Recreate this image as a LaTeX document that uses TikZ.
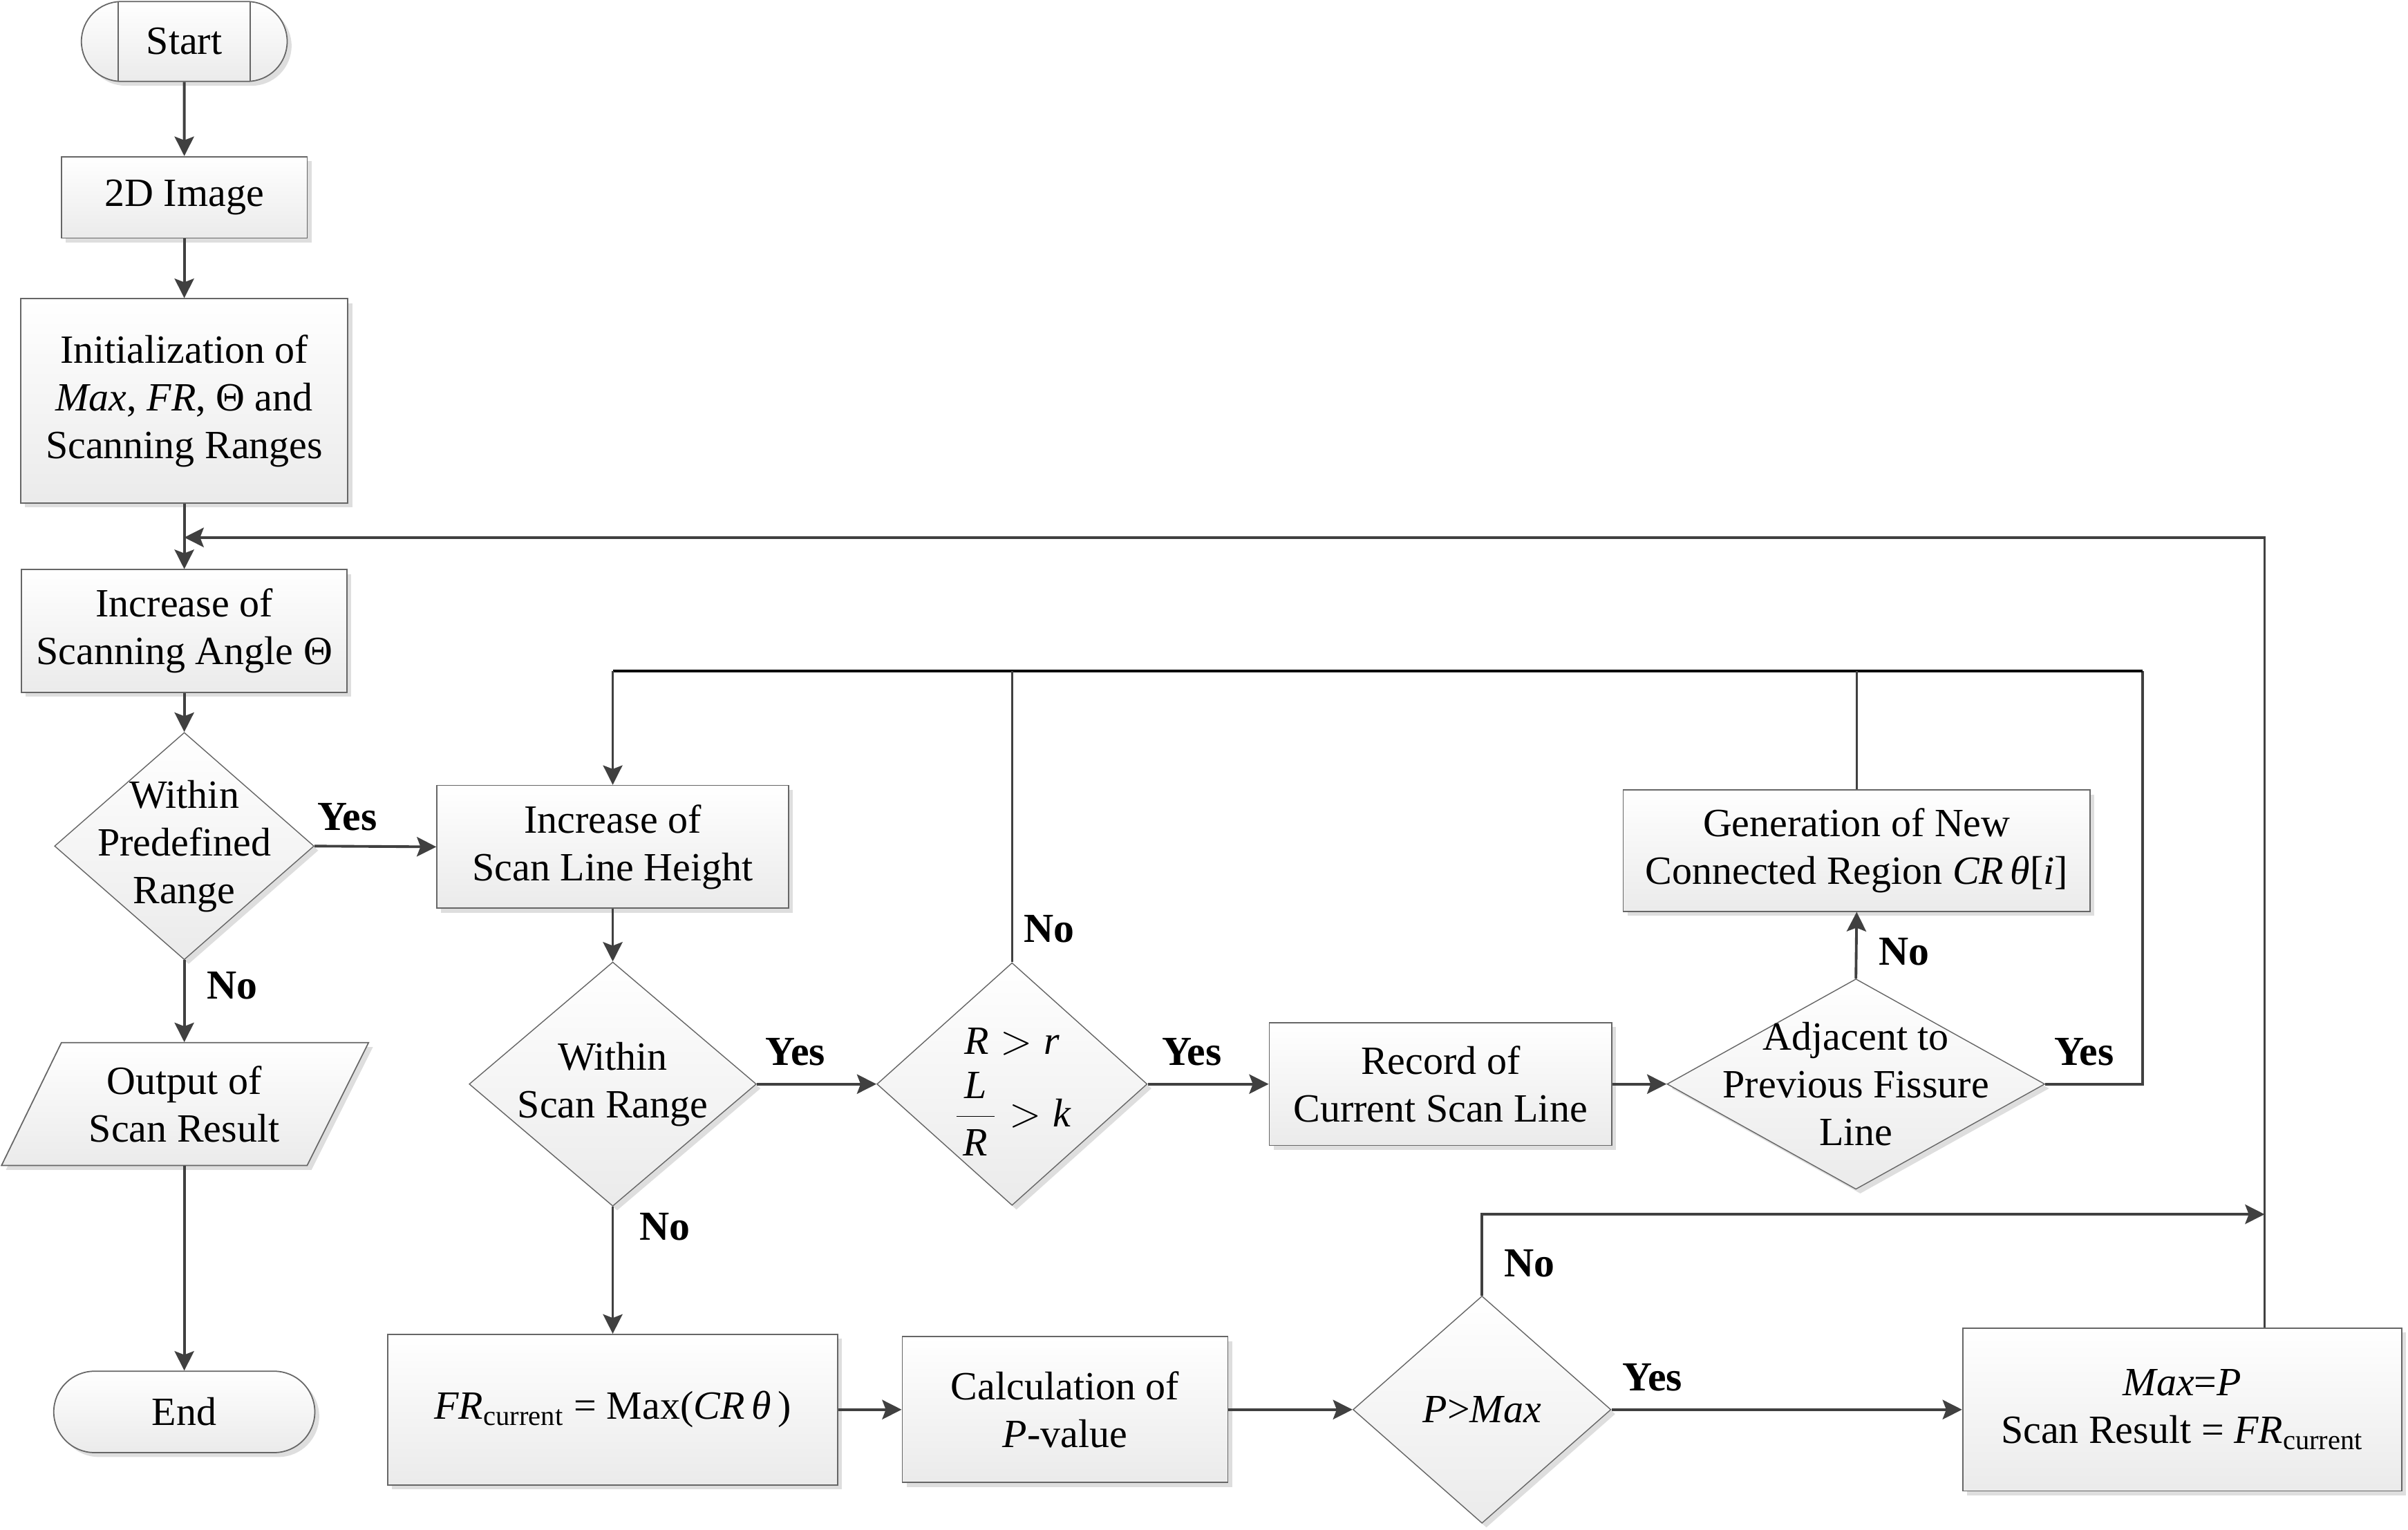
\documentclass[tikz,border=0pt]{standalone}
\usepackage{fontspec}
\setmainfont{Liberation Serif}
\usetikzlibrary{shapes.geometric,shapes.misc,arrows.meta,shadows,calc}
\newcommand{\pxu}{0.02222cm}
\tikzset{
  fillsh/.style={top color=white, bottom color=black!8,
    drop shadow={shadow xshift=1.8pt, shadow yshift=-1.8pt, fill=black!13, opacity=1}},
  box/.style={rectangle, draw=black!60, line width=0.5pt, fillsh, align=center, inner sep=0pt},
  dia/.style={diamond, draw=black!60, line width=0.4pt, fillsh, inner sep=0pt},
  term/.style={rounded rectangle, draw=black!60, line width=0.5pt, fillsh, inner sep=0pt},
  sz/.style 2 args={minimum width=#1*\pxu, minimum height=#2*\pxu},
  txt/.style={align=center, inner sep=0pt},
  lab/.style={font=\fontsize{17}{19.6}\selectfont\bfseries, inner sep=0pt},
  arr/.style={draw=black!75, line width=1.1pt, -{Stealth[length=8pt,width=8pt,inset=1.5pt]}},
  ln/.style={draw=black!75, line width=1.1pt},
  darkln/.style={draw=black, line width=1.2pt},
  thinln/.style={draw=black!75, line width=0.8pt},
  thinarr/.style={draw=black!75, line width=0.8pt, -{Stealth[length=8pt,width=8pt,inset=1.5pt]}},
}
\begin{document}
\begin{tikzpicture}[x=0.02222cm, y=-0.02222cm, font=\fontsize{16.5}{19.6}\selectfont]
\useasboundingbox (0,0) rectangle (1568,996);

% left column
\node[term, sz={134}{52}] (start) at (120,27) {Start};
\draw[draw=black!60, line width=0.5pt] ($(start.center)+(-43,-26)$) -- ($(start.center)+(-43,26)$);
\draw[draw=black!60, line width=0.5pt] ($(start.center)+(43,-26)$) -- ($(start.center)+(43,26)$);
\node[box, sz={160}{53}] (img) at (120,128.5) {2D Image};
\node[box, sz={213}{133}] (init) at (120,261) {Initialization of\\\textit{Max}, \textit{FR}, Θ and\\Scanning Ranges};
\node[box, sz={212}{80}] (incA) at (120,411) {Increase of\\Scanning Angle Θ};
\node[dia, sz={169}{148}] (d1) at (120,551) {};
\node[txt] at (d1) {Within\\Predefined\\Range};
\filldraw[draw=black!60, line width=0.5pt, fillsh] (40,679) -- (240,679) -- (200,759) -- (1,759) -- cycle;
\node[txt, sz={160}{80}] (out) at (120,719) {Output of\\Scan Result};
\node[term, sz={170}{53}] (end) at (120,919.5) {End};

% middle
\node[box, sz={229}{80}] (incH) at (399,551.5) {Increase of\\Scan Line Height};
\node[dia, sz={187}{159}] (d2) at (399,706) {};
\node[txt] at (d2) {Within\\Scan Range};
\node[dia, sz={176}{158}] (d3) at (659,706) {};
\node[txt] at (659,711) {$\textit{R} > \textit{r}$\\[6pt]$\displaystyle\frac{\,\textit{L}\,}{\,\textit{R}\,} > \textit{k}$};
\node[box, sz={223}{80}] (rec) at (938,706) {Record of\\Current Scan Line};
\node[dia, sz={246}{137}] (d4) at (1208.5,706) {};
\node[txt] at (d4) {Adjacent to\\Previous Fissure\\Line};
\node[box, sz={304}{79}] (gen) at (1209,554) {Generation of New\\Connected Region \textit{CR}\,\textit{θ}[\textit{i}]};

% bottom row
\node[box, sz={293}{98}] (fr) at (399,918) {\textit{FR}\textsubscript{current} = Max(\textit{CR}\,\textit{θ}\,)};
\node[box, sz={212}{95}] (calc) at (693.5,918) {Calculation of\\\textit{P}-value};
\node[dia, sz={168}{148}] (d5) at (965,918) {};
\node[txt] at (d5) {\textit{P}>\textit{Max}};
\node[box, sz={286}{106}] (maxp) at (1421,918) {\textit{Max}=\textit{P}\\Scan Result = \textit{FR}\textsubscript{current}};

% loop coordinates
\coordinate (t1) at (1395,437);
\coordinate (c1) at (1474.6,350);
\coordinate (c2) at (1474.6,790.8);

% connectors
\draw[arr] (start) -- (img);
\draw[arr] (img) -- (init);
\draw[arr] (init) -- (incA);
\draw[arr] (incA) -- (d1.north);
\draw[arr] (d1.east) -- (incH.west);
\draw[arr] (d1.south) -- (out.north);
\draw[arr] (out.south) -- (end.north);
\draw[arr] (incH.south) -- (d2.north);
\draw[arr] (d2.east) -- (d3.west);
\draw[arr] (d2.south) -- (fr.north);
\draw[arr] (d3.east) -- (rec.west);
\draw[arr] (rec.east) -- (d4.west);
\draw[arr] (d4.north) -- (gen.south);
\draw[arr] (fr.east) -- (calc.west);
\draw[arr] (calc.east) -- (d5.west);
\draw[arr] (d5.east) -- (maxp.west);

% inner loop
\draw[ln] (d4.east) -| (t1);
\draw[darkln] (t1) -- (incH.north |- t1);
\draw[thinarr] (incH.north |- t1) -- (incH.north);
\draw[thinln] (d3.north) -- (d3.north |- t1);
\draw[thinln] (gen.north) -- (gen.north |- t1);

% outer loop
\draw[arr] (maxp.north -| c1) -- (c1) -- (init.south |- c1);
\draw[arr] (d5.north) -- (d5.north |- c2) -- (c2);

% labels
\node[lab] at (226,532) {Yes};
\node[lab] at (151,642) {No};
\node[lab] at (518,685) {Yes};
\node[lab] at (433,799) {No};
\node[lab] at (683,605) {No};
\node[lab] at (776,685) {Yes};
\node[lab] at (1240,620) {No};
\node[lab] at (1357,685) {Yes};
\node[lab] at (996,823) {No};
\node[lab] at (1076,897) {Yes};
\end{tikzpicture}
\end{document}
